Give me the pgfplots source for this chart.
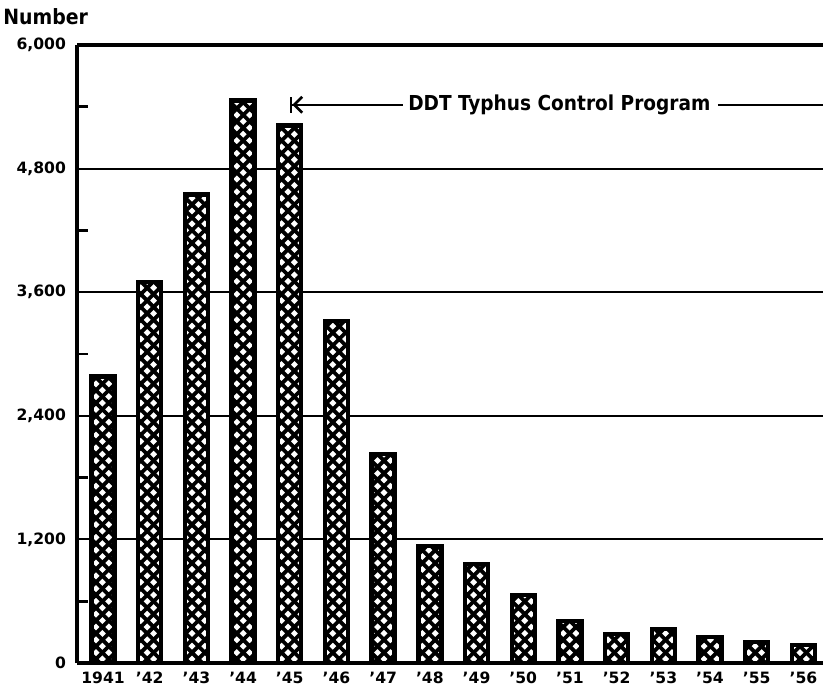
\documentclass[border=0pt]{standalone}
\usepackage{fontspec}
\setmainfont{DejaVu Sans}
\newfontfamily\condfont{DejaVu Sans Condensed}
\usepackage{pgfplots}
\pgfplotsset{compat=1.18}
\usetikzlibrary{patterns,arrows.meta}
\pgfdeclarepatternformonly{thickcross}{\pgfpoint{-1pt}{-1pt}}{\pgfpoint{7.4pt}{7.4pt}}{\pgfpoint{6.4pt}{6.4pt}}{%
  \pgfsetlinewidth{1.9pt}%
  \pgfpathmoveto{\pgfpoint{-0.5pt}{-0.5pt}}\pgfpathlineto{\pgfpoint{6.9pt}{6.9pt}}%
  \pgfpathmoveto{\pgfpoint{-0.5pt}{6.9pt}}\pgfpathlineto{\pgfpoint{6.9pt}{-0.5pt}}%
  \pgfusepath{stroke}}
\begin{document}
\begin{tikzpicture}
\begin{axis}[
  scale only axis,
  width=373pt, height=309pt,
  xmin=-0.557, xmax=15.42,
  ymin=0, ymax=6000,
  axis x line*=bottom, axis y line*=left,
  axis line style={-, line width=2pt},
  xtick={0,...,15},
  xticklabels={1941,'42,'43,'44,'45,'46,'47,'48,'49,'50,'51,'52,'53,'54,'55,'56},
  xtick style={draw=none},
  ytick={0,1200,...,6000},
  minor ytick={600,1800,3000,4200,5400},
  major tick length=0pt,
  minor tick length=5.5pt,
  tick align=inside,
  minor tick style={line width=1.3pt, black},
  ymajorgrids,
  grid style={line width=1pt, black},
  /pgf/number format/.cd, 1000 sep={,}, assume math mode=true,
  /pgfplots/.cd,
  ticklabel style={font=\bfseries\fontsize{7.8}{9}\selectfont},
  yticklabel style={xshift=-2pt},
  xticklabel style={yshift=-1pt},
  clip=false,
]
\addplot[ybar, bar width=11.5pt, draw=black, line width=2.2pt,
  preaction={fill=white}, pattern=thickcross]
  coordinates {
  (0,2780) (1,3700) (2,4550) (3,5460) (4,5220) (5,3320) (6,2030) (7,1136)
  (8,961) (9,660) (10,408) (11,282) (12,330) (13,252) (14,204) (15,175)};
\draw[line width=2pt] (rel axis cs:0,1) -- (rel axis cs:1,1);
\draw[line width=1pt, {Bar[width=8pt,line width=1.3pt]Straight Barb[length=4pt,width=8pt,line width=1.3pt]}-]
  (axis cs:4.0,5420) -- (axis cs:6.42,5420);
\node[anchor=mid west, inner sep=0pt, font=\condfont\bfseries\fontsize{10.3}{12}\selectfont]
  at (axis cs:6.53,5420) {DDT Typhus Control Program};
\draw[line width=1pt] (axis cs:13.17,5420) -- (axis cs:15.42,5420);
\node[anchor=base west, inner sep=0pt, font=\condfont\bfseries\fontsize{10.5}{12}\selectfont]
  at ([xshift=-37pt,yshift=10pt]rel axis cs:0,1) {Number};
\end{axis}
\pgfresetboundingbox
\path[use as bounding box] ([xshift=-38.5pt,yshift=-14pt]current axis.south west) rectangle ([yshift=22.5pt]current axis.north east);
\end{tikzpicture}
\end{document}
